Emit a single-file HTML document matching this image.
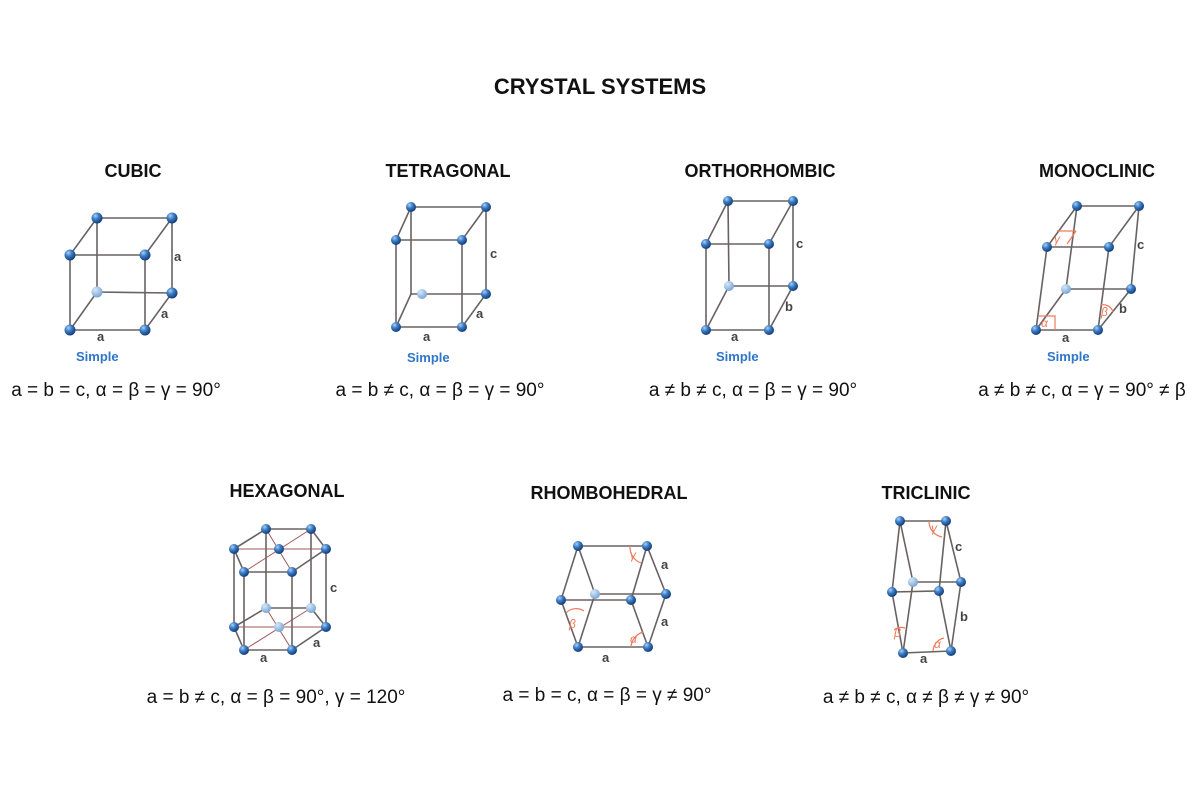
<!DOCTYPE html>
<html><head><meta charset="utf-8"><style>
html,body{margin:0;padding:0;background:#fff}
svg{display:block}
.t{font-family:"Liberation Sans",sans-serif;font-weight:bold;fill:#111}
.f{font-family:"Liberation Sans","DejaVu Sans",sans-serif;font-size:19px;fill:#111}
.l{font-family:"Liberation Sans",sans-serif;font-weight:bold;font-size:13px;fill:#444}
.s{font-family:"Liberation Sans",sans-serif;font-weight:bold;font-size:13px;fill:#2f75c8}
.g{font-family:"Liberation Sans","DejaVu Sans",sans-serif;font-style:italic;font-size:12px;fill:#f07a5a}
line,polyline{stroke:#6a6262;stroke-width:1.6;fill:none}
.r{stroke:#a05a5a;stroke-width:1}
.o{stroke:#f07a5a;stroke-width:1.2;fill:none}
</style></head><body>
<svg width="1200" height="800" viewBox="0 0 1200 800">
<defs>
<radialGradient id="b" cx="35%" cy="30%" r="70%"><stop offset="0" stop-color="#a8d0f5"/><stop offset="0.45" stop-color="#3d7cc4"/><stop offset="1" stop-color="#123e7a"/></radialGradient>
<radialGradient id="lb" cx="35%" cy="30%" r="70%"><stop offset="0" stop-color="#d6e8f8"/><stop offset="1" stop-color="#7aa6d4"/></radialGradient>
</defs>
<text class="t" x="600" y="94" font-size="22" text-anchor="middle">CRYSTAL SYSTEMS</text>
<g font-size="18" text-anchor="middle" class="t">
<text class="t" x="133" y="177">CUBIC</text>
<text class="t" x="448" y="177">TETRAGONAL</text>
<text class="t" x="760" y="177">ORTHORHOMBIC</text>
<text class="t" x="1097" y="177">MONOCLINIC</text>
<text class="t" x="287" y="497">HEXAGONAL</text>
<text class="t" x="609" y="499">RHOMBOHEDRAL</text>
<text class="t" x="926" y="499">TRICLINIC</text>
</g>
<g text-anchor="middle">
<text class="f" x="116" y="396">a = b = c, α = β = γ = 90°</text>
<text class="f" x="440" y="396">a = b ≠ c, α = β = γ = 90°</text>
<text class="f" x="753" y="396">a ≠ b ≠ c, α = β = γ = 90°</text>
<text class="f" x="1082" y="396">a ≠ b ≠ c, α = γ = 90° ≠ β</text>
<text class="f" x="276" y="703">a = b ≠ c, α = β = 90°,  γ = 120°</text>
<text class="f" x="607" y="701">a = b = c, α = β = γ ≠ 90°</text>
<text class="f" x="926" y="703">a ≠ b ≠ c, α ≠ β ≠ γ ≠ 90°</text>
</g>

<!-- CUBIC -->
<g>
<polyline points="97,218 172,218 172,293 145,330 70,330 70,255 97,218 97,292 172,293"/>
<polyline points="70,255 145,255 172,218"/><line x1="145" y1="255" x2="145" y2="330"/><line x1="97" y1="292" x2="70" y2="330"/>
<circle cx="97" cy="292" r="5.5" fill="url(#lb)"/>
<g fill="url(#b)"><circle cx="97" cy="218" r="5.5"/><circle cx="172" cy="218" r="5.5"/><circle cx="70" cy="255" r="5.5"/><circle cx="145" cy="255" r="5.5"/><circle cx="172" cy="293" r="5.5"/><circle cx="70" cy="330" r="5.5"/><circle cx="145" cy="330" r="5.5"/></g>
<text class="l" x="174" y="261">a</text><text class="l" x="161" y="318">a</text><text class="l" x="97" y="341">a</text>
<text class="s" x="76" y="361">Simple</text>
</g>
<!-- TETRAGONAL -->
<g>
<polyline points="411,207 486,207 486,294 462,327 396,327 396,240 411,207 411,294 486,294"/>
<polyline points="396,240 462,240 486,207"/><line x1="462" y1="240" x2="462" y2="327"/><line x1="411" y1="294" x2="396" y2="327"/>
<circle cx="422" cy="294" r="5" fill="url(#lb)"/>
<g fill="url(#b)"><circle cx="411" cy="207" r="5"/><circle cx="486" cy="207" r="5"/><circle cx="396" cy="240" r="5"/><circle cx="462" cy="240" r="5"/><circle cx="486" cy="294" r="5"/><circle cx="396" cy="327" r="5"/><circle cx="462" cy="327" r="5"/></g>
<text class="l" x="490" y="258">c</text><text class="l" x="476" y="318">a</text><text class="l" x="423" y="341">a</text>
<text class="s" x="407" y="362">Simple</text>
</g>
<!-- ORTHORHOMBIC -->
<g>
<polyline points="728,201 793,201 793,286 769,330 706,330 706,244 728,201 729,286 793,286"/>
<polyline points="706,244 769,244 793,201"/><line x1="769" y1="244" x2="769" y2="330"/><line x1="729" y1="286" x2="706" y2="330"/>
<circle cx="729" cy="286" r="5" fill="url(#lb)"/>
<g fill="url(#b)"><circle cx="728" cy="201" r="5"/><circle cx="793" cy="201" r="5"/><circle cx="706" cy="244" r="5"/><circle cx="769" cy="244" r="5"/><circle cx="793" cy="286" r="5"/><circle cx="706" cy="330" r="5"/><circle cx="769" cy="330" r="5"/></g>
<text class="l" x="796" y="248">c</text><text class="l" x="785" y="311">b</text><text class="l" x="731" y="341">a</text>
<text class="s" x="716" y="361">Simple</text>
</g>
<!-- MONOCLINIC -->
<g>
<polyline points="1077,206 1139,206 1131,289 1098,330 1036,330 1047,247 1077,206 1066,289 1131,289"/>
<polyline points="1047,247 1109,247 1139,206"/><line x1="1109" y1="247" x2="1098" y2="330"/><line x1="1066" y1="289" x2="1036" y2="330"/>
<path class="o" d="M1057,231 L1076,231 M1067,244 L1076,231 M1039,316 L1055,316 L1055,330 M1101,305 A10,10 0 0 1 1113,312"/>
<text class="g" x="1054" y="243">γ</text><text class="g" x="1041" y="327">α</text><text class="g" x="1101" y="316">β</text>
<circle cx="1066" cy="289" r="5" fill="url(#lb)"/>
<g fill="url(#b)"><circle cx="1077" cy="206" r="5"/><circle cx="1139" cy="206" r="5"/><circle cx="1047" cy="247" r="5"/><circle cx="1109" cy="247" r="5"/><circle cx="1131" cy="289" r="5"/><circle cx="1036" cy="330" r="5"/><circle cx="1098" cy="330" r="5"/></g>
<text class="l" x="1137" y="249">c</text><text class="l" x="1119" y="313">b</text><text class="l" x="1062" y="342">a</text>
<text class="s" x="1047" y="361">Simple</text>
</g>
<!-- HEXAGONAL -->
<g>
<polyline points="266,529 311,529 326,549 292,572 244,572 234,549 266,529"/>
<polyline points="266,608 311,608 326,627 292,650 244,650 234,627 266,608"/>
<line x1="266" y1="529" x2="266" y2="608"/><line x1="311" y1="529" x2="311" y2="608"/><line x1="326" y1="549" x2="326" y2="627"/><line x1="292" y1="572" x2="292" y2="650"/><line x1="244" y1="572" x2="244" y2="650"/><line x1="234" y1="549" x2="234" y2="627"/>
<line class="r" x1="234" y1="549" x2="326" y2="549"/><line class="r" x1="311" y1="529" x2="244" y2="572"/><line class="r" x1="266" y1="529" x2="292" y2="572"/>
<line class="r" x1="234" y1="627" x2="326" y2="627"/><line class="r" x1="311" y1="608" x2="244" y2="650"/><line class="r" x1="266" y1="608" x2="292" y2="650"/>
<g fill="url(#lb)"><circle cx="266" cy="608" r="5"/><circle cx="311" cy="608" r="5"/><circle cx="279" cy="627" r="5"/></g>
<g fill="url(#b)"><circle cx="266" cy="529" r="5"/><circle cx="311" cy="529" r="5"/><circle cx="234" cy="549" r="5"/><circle cx="279" cy="549" r="5"/><circle cx="326" cy="549" r="5"/><circle cx="244" cy="572" r="5"/><circle cx="292" cy="572" r="5"/><circle cx="234" cy="627" r="5"/><circle cx="326" cy="627" r="5"/><circle cx="244" cy="650" r="5"/><circle cx="292" cy="650" r="5"/></g>
<text class="l" x="330" y="592">c</text><text class="l" x="313" y="647">a</text><text class="l" x="260" y="662">a</text>
</g>
<!-- RHOMBOHEDRAL -->
<g>
<line x1="578" y1="546" x2="647" y2="546"/>
<polyline points="561,600 578,546 595,594 578,647 561,600 631,600 648,647 666,594 647,546 631,600"/>
<line x1="595" y1="594" x2="666" y2="594"/><line x1="578" y1="647" x2="648" y2="647"/>
<path class="o" d="M630,546 A17,17 0 0 0 641,563 M566,613 A14,14 0 0 1 584,611 M631,647 A17,17 0 0 1 643,632"/>
<text class="g" x="630" y="559">γ</text><text class="g" x="569" y="628">β</text><text class="g" x="630" y="643">α</text>
<circle cx="595" cy="594" r="5" fill="url(#lb)"/>
<g fill="url(#b)"><circle cx="578" cy="546" r="5"/><circle cx="647" cy="546" r="5"/><circle cx="561" cy="600" r="5"/><circle cx="631" cy="600" r="5"/><circle cx="666" cy="594" r="5"/><circle cx="578" cy="647" r="5"/><circle cx="648" cy="647" r="5"/></g>
<text class="l" x="661" y="569">a</text><text class="l" x="661" y="626">a</text><text class="l" x="602" y="662">a</text>
</g>
<!-- TRICLINIC -->
<g>
<line x1="900" y1="521" x2="946" y2="521"/>
<polyline points="892,592 900,521 913,582 903,653 892,592 939,591 951,651 961,582 946,521 939,591"/>
<line x1="913" y1="582" x2="961" y2="582"/><line x1="903" y1="653" x2="951" y2="651"/>
<path class="o" d="M929,521 A16,16 0 0 0 942,537 M894,630 A12,12 0 0 1 905,628 M933,651 A14,14 0 0 1 944,638"/>
<text class="g" x="931" y="532">γ</text><text class="g" x="894" y="637">β</text><text class="g" x="934" y="648">α</text>
<circle cx="913" cy="582" r="5" fill="url(#lb)"/>
<g fill="url(#b)"><circle cx="900" cy="521" r="5"/><circle cx="946" cy="521" r="5"/><circle cx="892" cy="592" r="5"/><circle cx="939" cy="591" r="5"/><circle cx="961" cy="582" r="5"/><circle cx="903" cy="653" r="5"/><circle cx="951" cy="651" r="5"/></g>
<text class="l" x="955" y="551">c</text><text class="l" x="960" y="621">b</text><text class="l" x="920" y="663">a</text>
</g>
</svg>
</body></html>
